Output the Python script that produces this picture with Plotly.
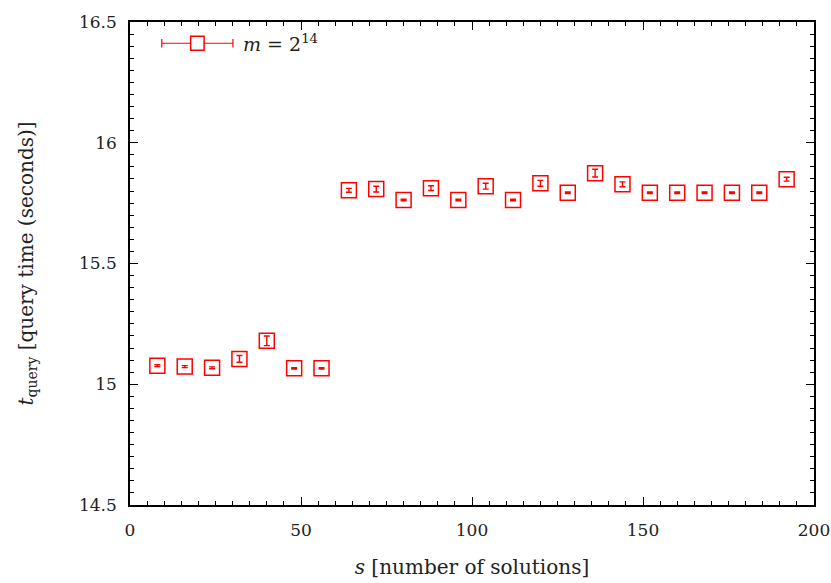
import plotly.graph_objects as go

s_values = [8, 16, 24, 32, 40, 48, 56, 64, 72, 80, 88, 96, 104, 112, 120, 128,
            136, 144, 152, 160, 168, 176, 184, 192]
t_query = [15.077, 15.073, 15.068, 15.105, 15.180, 15.066, 15.066,
           15.803, 15.808, 15.763, 15.812, 15.763, 15.820, 15.763, 15.832, 15.793,
           15.874, 15.828, 15.793, 15.793, 15.793, 15.793, 15.793, 15.849]
t_err = [0.004, 0.004, 0.004, 0.014, 0.020, 0.003, 0.003,
         0.008, 0.012, 0.003, 0.010, 0.003, 0.012, 0.003, 0.012, 0.003,
         0.016, 0.010, 0.003, 0.003, 0.003, 0.003, 0.003, 0.008]

red = "#ff0000"
font_family = "DejaVu Serif"

fig = go.Figure()
fig.add_trace(go.Scatter(
    x=s_values, y=t_query, mode="markers",
    marker=dict(symbol="square-open", size=15, color=red, line=dict(width=1.5, color=red)),
    error_y=dict(type="data", array=t_err, color=red, thickness=1.4, width=3),
    showlegend=False,
))

axis_common = dict(
    showgrid=False, zeroline=False, showline=True, linecolor="black", linewidth=1.5,
    mirror="allticks", ticks="inside", ticklen=8, tickcolor="black", tickwidth=1,
    tickfont=dict(size=17, color="#222", family=font_family), automargin=False,
    ticklabeloverflow="allow",
)
fig.update_xaxes(range=[0, 200], dtick=50, tick0=0, ticklabelstandoff=9,
                 minor=dict(ticks="inside", dtick=5, ticklen=4, tickcolor="black"),
                 title=dict(text="<i>s</i> [number of solutions]", font=dict(size=20, family=font_family, color="#222"), standoff=21),
                 **axis_common)
fig.update_yaxes(range=[14.5, 16.5], dtick=0.5, tick0=14.5, ticklabelstandoff=8,
                 minor=dict(ticks="inside", dtick=0.05, ticklen=4, tickcolor="black"),
                 title=dict(text="<i>t</i><sub>query</sub> [query time (seconds)]", font=dict(size=20, family=font_family, color="#222"), standoff=40),
                 **axis_common)

# Legend drawn manually (line with error caps, square marker, label)
ly = 0.956
x0, x1 = 0.0465, 0.1505
fig.add_shape(type="line", xref="paper", yref="paper", x0=x0, x1=x1, y0=ly, y1=ly, line=dict(color=red, width=1.2))
for xc in (x0, x1):
    fig.add_shape(type="line", xref="paper", yref="paper", x0=xc, x1=xc, y0=ly - 0.009, y1=ly + 0.009, line=dict(color=red, width=1.2))
xm = (x0 + x1) / 2
fig.add_shape(type="rect", xref="paper", yref="paper", x0=xm - 0.0098, x1=xm + 0.0098, y0=ly - 0.0145, y1=ly + 0.0145,
              line=dict(color=red, width=1.5), fillcolor="white")
fig.add_annotation(xref="paper", yref="paper", x=x1 + 0.012, y=ly, xanchor="left", yanchor="middle",
                   text="<i>m</i> = 2<sup>14</sup>", showarrow=False, font=dict(size=19, family=font_family, color="#222"))

fig.update_layout(
    width=831, height=583, margin=dict(l=130, r=17, t=22, b=78),
    plot_bgcolor="white", paper_bgcolor="white",
)
fig.write_html("out.html")
